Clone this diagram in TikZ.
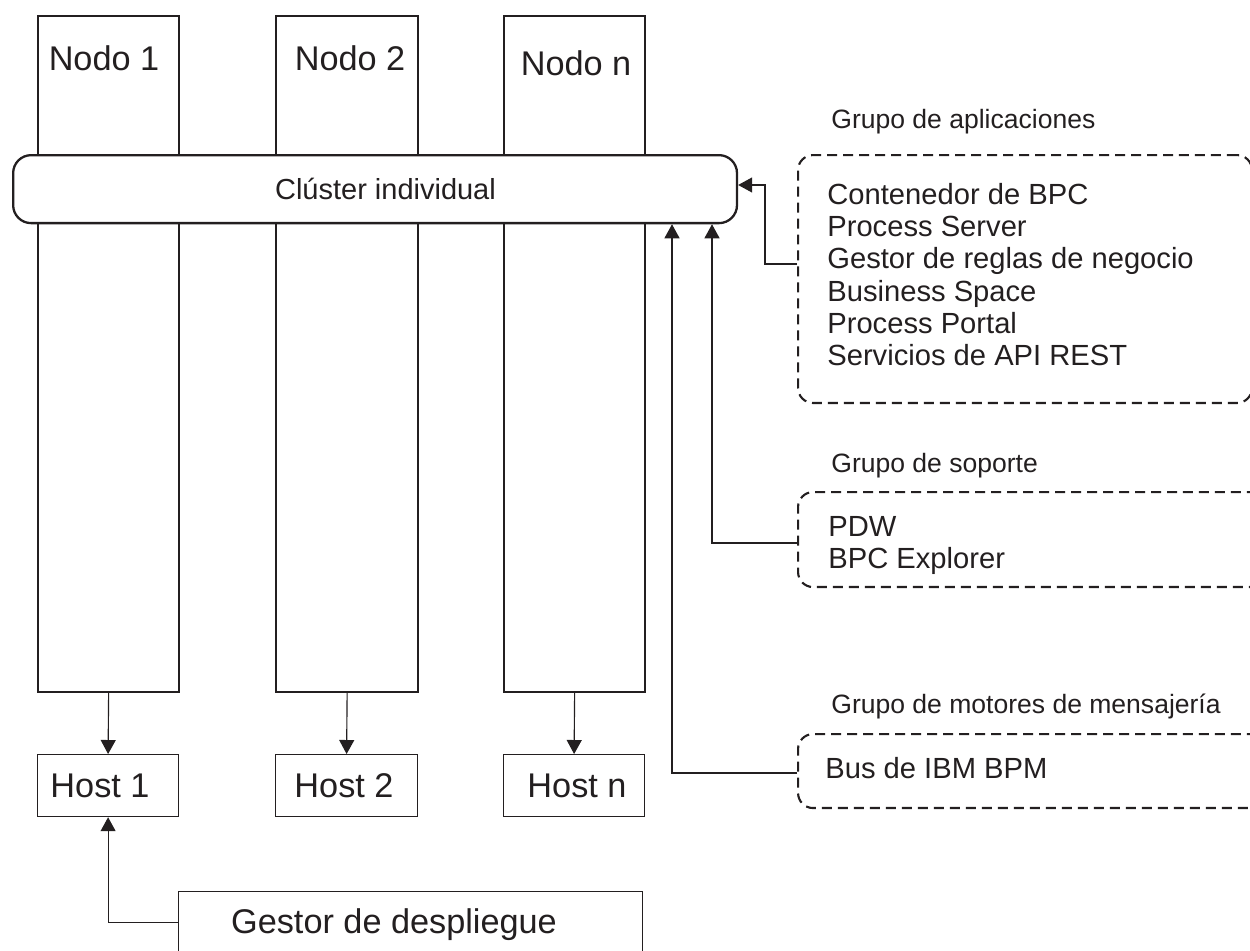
\documentclass[tikz,border=0pt]{standalone}
\usepackage{fontspec}
\setmainfont{Liberation Sans}
\usetikzlibrary{arrows.meta}
\definecolor{ink}{HTML}{231F20}
\tikzset{
  colbox/.style={draw=ink, line width=1.3pt, fill=white, inner sep=0pt, anchor=north west,
                 minimum width=2.82cm, minimum height=13.52cm},
  clusterbox/.style={draw=ink, line width=1.3pt, fill=white, rounded corners=0.36cm, inner sep=0pt,
                 anchor=north west, minimum width=14.48cm, minimum height=1.36cm},
  hostbox/.style={draw=ink, line width=0.7pt, fill=white, inner sep=0pt, anchor=north west,
                 minimum width=2.82cm, minimum height=1.24cm},
  groupbox/.style={draw=ink, line width=1.2pt, dash pattern=on 0.2cm off 0.12cm,
                 rounded corners=0.3cm, inner sep=0pt, anchor=north west},
  bigtxt/.style={text=ink, inner sep=0pt, anchor=base, font=\fontsize{19.5pt}{23pt}\selectfont},
  midtxt/.style={text=ink, inner sep=0pt, anchor=base, font=\fontsize{16.5pt}{20pt}\selectfont},
  itemtxt/.style={text=ink, inner sep=0pt, anchor=base west, font=\fontsize{16.6pt}{20pt}\selectfont},
  titletxt/.style={text=ink, inner sep=0pt, anchor=base west, font=\fontsize{15.1pt}{18pt}\selectfont},
  arr/.style={draw=ink, line width=0.65pt, -{Triangle[width=3mm,length=2.8mm]}},
}
\begin{document}
\begin{tikzpicture}[x=0.02cm,y=-0.02cm]
\useasboundingbox (0,0) rectangle (1250,950);
\clip (0,0) rectangle (1250,950);

% node columns
\node[colbox] (n1) at (37,15) {};
\node[colbox, minimum width=2.84cm] (n2) at (275,15) {};
\node[colbox] (nn) at (503,15) {};
\node[bigtxt] (n1t) at (104,70.5) {Nodo 1};
\node[bigtxt] (n2t) at (350,70.5) {Nodo 2};
\node[bigtxt] (nnt) at (576,75.5) {Nodo n};

% cluster
\node[clusterbox] (cl) at (12,154) {};
\node[midtxt] (clt) at (385.5,199.5) {Clúster individual};

% hosts
\node[hostbox] (h1) at (37,754) {};
\node[hostbox, minimum width=2.84cm] (h2) at (275,754) {};
\node[hostbox] (hn) at (503,754) {};
\node[bigtxt] (h1t) at (100,797) {Host 1};
\node[bigtxt] (h2t) at (344,797) {Host 2};
\node[bigtxt] (hnt) at (577,797) {Host n};

% deployment manager
\node[hostbox, minimum width=9.28cm, minimum height=1.24cm] (dm) at (178,891) {};
\node[bigtxt] (dmt) at (394,933) {Gestor de despliegue};

% column -> host arrows
\draw[arr] (n1.south) -- (h1.north);
\draw[arr] (n2.south) -- (h2.north);
\draw[arr] (nn.south) -- (hn.north);
\draw[arr] (dm.west) -| (h1.south);

% application group
\node[titletxt] (agt) at (831,128) {Grupo de aplicaciones};
\node[groupbox, minimum width=9.08cm, minimum height=4.96cm] (ag) at (797,154) {};
\node[itemtxt] (a1) at (827,204.5) {Contenedor de BPC};
\node[itemtxt] (a2) at (827,236.7) {Process Server};
\node[itemtxt] (a3) at (827,268.9) {Gestor de reglas de negocio};
\node[itemtxt] (a4) at (827,301.1) {Business Space};
\node[itemtxt] (a5) at (827,333.3) {Process Portal};
\node[itemtxt] (a6) at (827,365.5) {Servicios de API REST};

% support group
\node[titletxt] (sgt) at (831,472) {Grupo de soporte};
\node[groupbox, minimum width=9.8cm, minimum height=1.9cm] (sg) at (797,491) {};
\node[itemtxt] (s1) at (828,536.5) {PDW};
\node[itemtxt] (s2) at (828,568.5) {BPC Explorer};

% messaging group
\node[titletxt] (mgt) at (831,713) {Grupo de motores de mensajería};
\node[groupbox, minimum width=9.8cm, minimum height=1.48cm] (mg) at (797,733) {};
\node[itemtxt] (m1) at (825,778.5) {Bus de IBM BPM};

% connectors into the cluster
\coordinate (aj) at (797,264);
\coordinate (ab) at (765,185);
\coordinate (sj) at (797,543);
\coordinate (sx) at (712,0);
\coordinate (mj) at (797,773);
\coordinate (mx) at (672,0);
\draw[arr] (ag.west |- aj) -| (ab) -- (cl.east |- ab);
\draw[arr] (sg.west |- sj) -| (cl.south -| sx);
\draw[arr] (mg.west |- mj) -| (cl.south -| mx);
\end{tikzpicture}
\end{document}
